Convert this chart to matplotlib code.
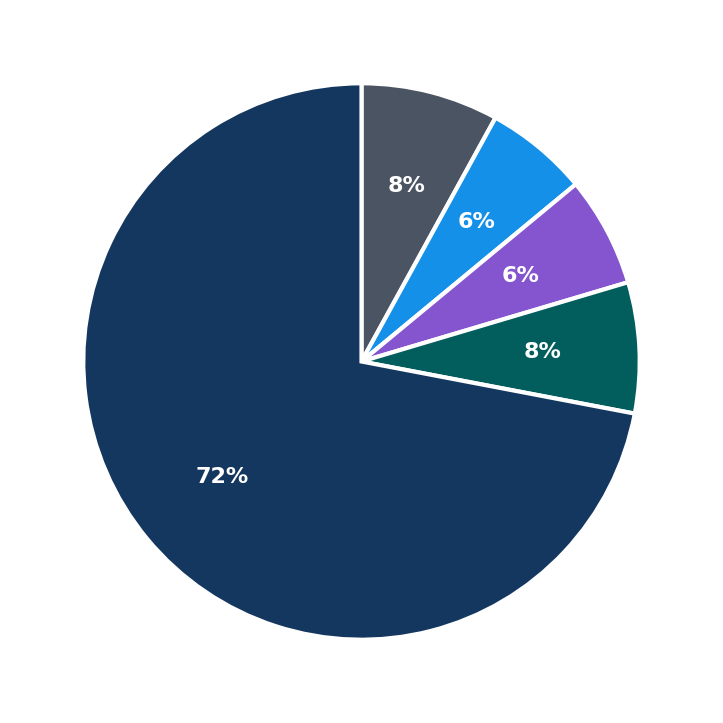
import matplotlib
matplotlib.use("Agg")
import matplotlib.pyplot as plt

# slice shares (percent), clockwise from 12 o'clock
values = [8.0, 6.0, 6.4, 7.6, 72.0]
colors = ["#4a5462", "#1490e8", "#8455cf", "#025e5c", "#14375f"]

fig = plt.figure(figsize=(7.23, 7.23), dpi=100)
ax = fig.add_axes([0.019, 0.019, 0.962, 0.962])
wedges, texts, autotexts = ax.pie(
    values, colors=colors, startangle=90, counterclock=False,
    autopct="%.0f%%", pctdistance=0.65,
    wedgeprops=dict(edgecolor="white", linewidth=3),
    textprops=dict(color="white", fontsize=16, fontweight="bold"))
ax.set_aspect("equal")
fig.savefig("out.png", dpi=100)
